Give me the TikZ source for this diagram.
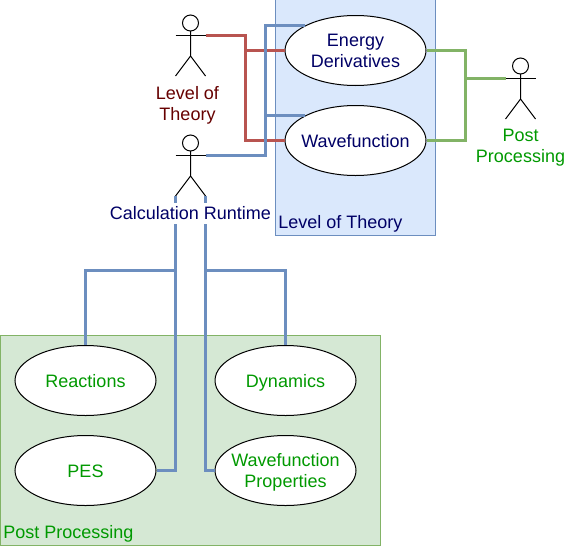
\documentclass[tikz,border=0pt]{standalone}
\usepackage{fontspec}
\setmainfont{Liberation Sans}
\usetikzlibrary{shapes.geometric}
\definecolor{blueFill}{HTML}{DAE8FC}
\definecolor{blueLine}{HTML}{6C8EBF}
\definecolor{greenFill}{HTML}{D5E8D4}
\definecolor{greenLine}{HTML}{82B366}
\definecolor{redLine}{HTML}{B85450}
\definecolor{navyText}{HTML}{000066}
\definecolor{redText}{HTML}{660000}
\definecolor{greenText}{HTML}{009900}
\newcommand{\onestrut}{\rule[-3.3pt]{0pt}{17.8pt}}
\newcommand{\twostrut}{\rule[-3.3pt]{0pt}{14.55pt}}
\newcommand{\firstline}{\rule{0pt}{13pt}}
% stick figure: name, x of the body, y of the top of the head
\newcommand{\actor}[3]{
	\draw[black,line width=0.75pt,fill=white] (#2,#3+8) circle (6pt);
	\draw[black,line width=0.75pt] (#2,#3+16) -- (#2,#3+41)
		(#2,#3+41) -- (#2-15,#3+61) (#2,#3+41) -- (#2+15,#3+61);
	\draw[black,line width=0.75pt] (#2-15,#3+20) -- (#2+15,#3+20);
	\coordinate (#1Left) at (#2-15,#3+20);
	\coordinate (#1Right) at (#2+15,#3+20);
	\coordinate (#1FootL) at (#2-15,#3+61);
	\coordinate (#1FootR) at (#2+15,#3+61);
}
\begin{document}
\begin{tikzpicture}[
			x = 0.75pt,
			y = -0.75pt,
			every node/.style = {font = \fontsize{13.5}{15.75}\selectfont, align = center},
			usecase/.style = {ellipse, draw = black, fill = white, line width = 0.75pt, inner xsep = -6pt, inner ysep = -4pt, minimum width = 105.75pt, minimum height = 52.5pt},
			oneline/.style = {usecase, execute at begin node = \onestrut},
			twolines/.style = {usecase, execute at end node = \twostrut},
			wire/.style = {line width = 2.25pt, line join = miter},
			]

			\useasboundingbox (0,0) rectangle (566,546);

			% the two groups
			\draw[blueLine,fill=blueFill,line width=0.75pt] (275.5,-1) rectangle (435.5,235.5);
			\draw[greenLine,fill=greenFill,line width=0.75pt] (0.5,335.5) rectangle (380.5,545.5);
			\node[text=navyText,anchor=west,inner sep=0pt] (levelGroup) at (278,224) {Level of Theory};
			\node[text=greenText,anchor=west,inner sep=0pt] (postGroup) at (3,534) {Post Processing};

			\actor{level}{190.5}{15}
			\actor{calc}{190.5}{135}
			\actor{post}{520.5}{58}

			\node[twolines,text=navyText] (energy) at (355.5,50.5) {\firstline Energy\\Derivatives};
			\node[oneline,text=navyText] (wave) at (355.5,140.5) {Wavefunction};
			\node[oneline,text=greenText] (reactions) at (85.5,380.5) {Reactions};
			\node[oneline,text=greenText] (pes) at (85.5,470.5) {PES};
			\node[oneline,text=greenText] (dynamics) at (285.5,380.5) {Dynamics};
			\node[twolines,text=greenText] (waveProps) at (285.5,470.5) {\firstline Wavefunction\\Properties};

			\coordinate (levelBus) at (245.5,35.5);
			\coordinate (runBus) at (265.5,155.5);
			\coordinate (postBus) at (465.5,78.5);
			\coordinate (leftBus) at (175.5,270.5);
			\coordinate (rightBus) at (205.5,270.5);

			% level of theory to the methods
			\draw[wire,redLine] (levelRight) -| (levelBus |- wave.west) -- (wave.west);
			\draw[wire,redLine] (levelBus |- energy.west) -- (energy.west);

			% runtime to the methods
			\draw[wire,blueLine] (calcRight) -| (runBus |- energy.north west) -- (energy.north west);
			\draw[wire,blueLine] (runBus |- wave.north west) -- (wave.north west);

			% methods to post processing
			\draw[wire,greenLine] (energy.east) -| (postBus |- wave.east) -- (wave.east);
			\draw[wire,greenLine] (postBus |- postLeft) -- (postLeft);

			% runtime to the analyses
			\draw[wire,blueLine] (calcFootL) |- (pes.east);
			\draw[wire,blueLine] (leftBus) -| (reactions.north);
			\draw[wire,blueLine] (calcFootR) |- (waveProps.west);
			\draw[wire,blueLine] (rightBus) -| (dynamics.north);

			\node[text=redText] (levelLabel) at (187.5,105) {Level of\\Theory};
			\node[text=navyText,fill=white,inner xsep=0pt,inner ysep=0pt,minimum height=15.75pt] (calcLabel) at (190.5,213.5) {Calculation Runtime};
			\node[text=greenText] (postLabel) at (520.5,148) {Post\\Processing};

		\end{tikzpicture}
\end{document}
